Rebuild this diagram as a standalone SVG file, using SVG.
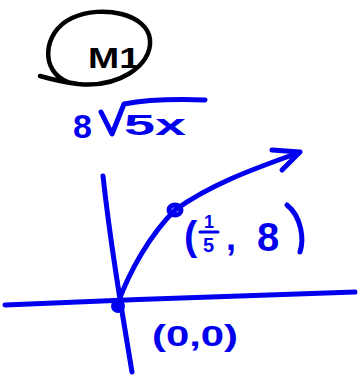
<svg xmlns="http://www.w3.org/2000/svg" width="362" height="383" viewBox="0 0 362 383">
<style>
.ink{fill:none;stroke:#0000ee;stroke-width:5;stroke-linecap:round;stroke-linejoin:round}
.blk{fill:none;stroke:#000;stroke-width:4.5;stroke-linecap:round;stroke-linejoin:round}
.bt{font-family:"Liberation Sans",sans-serif;font-weight:bold;fill:#0000ee}
</style>
<rect width="362" height="383" fill="#fff"/>
<g id="label-m1">
<path class="blk" d="M68,82 C40,72 42,32 72,18 C102,4 148,14 150,40 C152,66 118,88 78,84 C62,82 47,78 40,76"/>
<text x="88" y="68" font-family="Liberation Sans,sans-serif" font-weight="bold" font-size="30" fill="#000" textLength="52" lengthAdjust="spacingAndGlyphs">M1</text>
</g>
<g id="formula">
<text x="73" y="138" class="bt" font-size="34">8</text>
<path class="ink" d="M101,112 L112,134 L124,104 C145,100 175,99 205,100"/>
<text x="124" y="135" class="bt" font-size="30" textLength="62" lengthAdjust="spacingAndGlyphs">5x</text>
</g>
<g id="axes">
<path class="ink" d="M5,305 C120,300 250,295 355,292"/>
<path class="ink" d="M103,176 C110,240 120,300 132,372"/>
</g>
<g id="curve">
<path class="ink" d="M118,303 C130,270 150,235 175,210 C210,185 250,170 298,153"/>
<path class="ink" d="M272,150 L300,152 L282,170"/>
<ellipse cx="175" cy="210" rx="6" ry="5" class="ink"/>
<circle cx="118" cy="306" r="7" fill="#0000ee"/>
</g>
<g id="labels">
<text x="184" y="250" class="bt" font-size="40">(</text>
<text x="204" y="228" class="bt" font-size="18">1</text>
<path class="ink" d="M200,232 L218,232" style="stroke-width:3"/>
<text x="203" y="252" class="bt" font-size="20">5</text>
<text x="226" y="250" class="bt" font-size="36">,</text>
<text x="257" y="251" class="bt" font-size="40">8</text>
<path class="ink" d="M287,205 C302,217 304,240 300,252"/>
<text x="152" y="346" class="bt" font-size="30" textLength="86" lengthAdjust="spacingAndGlyphs">(0,0)</text>
</g>
</svg>
